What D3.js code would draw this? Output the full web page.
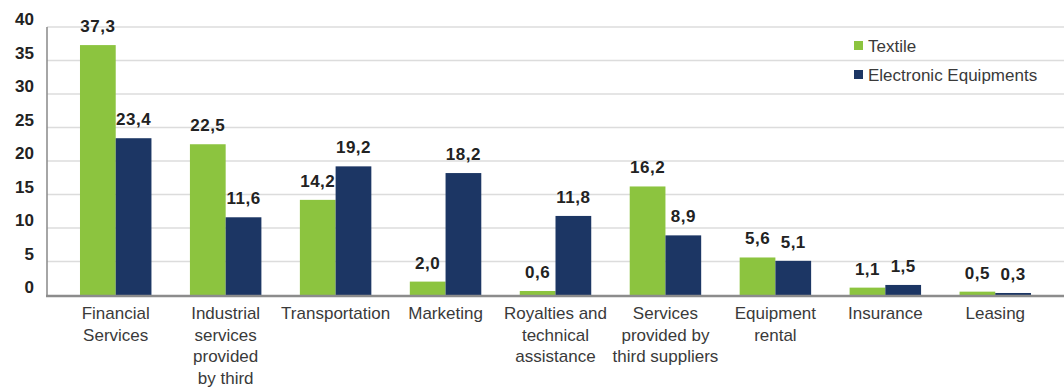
<!DOCTYPE html>
<html>
<head>
<meta charset="utf-8">
<script src="https://cdn.jsdelivr.net/npm/d3@7"></script>
<style>
  body { margin: 0; background: #fff; }
  svg { display: block; font-family: "Liberation Sans", Arial, sans-serif; }
</style>
</head>
<body>
<svg id="chart" width="1064" height="390"></svg>
<script>
// categories (line breaks kept as in the picture)
var categories = [
  ["Financial", "Services"],
  ["Industrial", "services", "provided", "by third"],
  ["Transportation"],
  ["Marketing"],
  ["Royalties and", "technical", "assistance"],
  ["Services", "provided by", "third suppliers"],
  ["Equipment", "rental"],
  ["Insurance"],
  ["Leasing"]
];
var seriesNames = ["Textile", "Electronic Equipments"];
var textile    = [37.3, 22.5, 14.2, 2.0, 0.6, 16.2, 5.6, 1.1, 0.5];
var electronic = [23.4, 11.6, 19.2, 18.2, 11.8, 8.9, 5.1, 1.5, 0.3];
var yTicks = [0, 5, 10, 15, 20, 25, 30, 35, 40];
var colors = ["#8cc43f", "#1c3664"];

// note: "top" is window.top, so use other names
var plotLeft = 47, plotRight = 1064, plotTop = 27, plotBottom = 295;

var svg = d3.select("#chart");

var x = d3.scaleBand()
  .domain(d3.range(categories.length))
  .range([plotLeft, plotRight])
  .paddingInner(0.35)
  .paddingOuter(0.3);

var x1 = d3.scaleBand()
  .domain([0, 1])
  .range([0, x.bandwidth()]);

var y = d3.scaleLinear().domain([0, 40]).range([plotBottom, plotTop]);

// gridlines
svg.append("g").selectAll("line")
  .data(yTicks.filter(function(d){ return d > 0; }))
  .enter().append("line")
  .attr("x1", plotLeft).attr("x2", plotRight)
  .attr("y1", function(d){ return y(d); })
  .attr("y2", function(d){ return y(d); })
  .style("stroke", "#dcdcdc")
  .style("stroke-width", 1.5);

// y tick labels
svg.append("g").selectAll("text")
  .data(yTicks)
  .enter().append("text")
  .attr("x", 34)
  .attr("y", function(d){ return y(d) - 2; })
  .attr("text-anchor", "end")
  .style("font-size", "17px")
  .style("font-weight", "bold")
  .style("fill", "#222")
  .text(function(d){ return d; });

// y axis line
svg.append("line")
  .attr("x1", plotLeft).attr("x2", plotLeft)
  .attr("y1", plotTop).attr("y2", plotBottom)
  .style("stroke", "#888").style("stroke-width", 1.5);

var series = [textile, electronic];

series.forEach(function(vals, s){
  var g = svg.append("g");
  g.selectAll("rect")
    .data(vals)
    .enter().append("rect")
    .attr("x", function(d, i){ return x(i) + x1(s); })
    .attr("width", x1.bandwidth())
    .attr("y", function(d){ return y(d); })
    .attr("height", function(d){ return plotBottom - y(d); })
    .style("fill", colors[s]);

  g.selectAll("text")
    .data(vals)
    .enter().append("text")
    .attr("x", function(d, i){ return x(i) + x1(s) + x1.bandwidth() / 2; })
    .attr("y", function(d){ return y(d) - 13; })
    .attr("text-anchor", "middle")
    .style("font-size", "17px")
    .style("font-weight", "bold")
    .style("letter-spacing", "0.5px")
    .style("fill", "#222")
    .text(function(d){ return d3.format(".1f")(d).replace(".", ","); });
});

// x axis line
svg.append("line")
  .attr("x1", plotLeft - 1).attr("x2", plotRight)
  .attr("y1", plotBottom + 1).attr("y2", plotBottom + 1)
  .style("stroke", "#8c8c8c").style("stroke-width", 2.5);

// category labels
var cat = svg.append("g").selectAll("text")
  .data(categories)
  .enter().append("text")
  .attr("text-anchor", "middle")
  .style("font-size", "17px")
  .style("fill", "#3a3a3a");

cat.selectAll("tspan")
  .data(function(d, i){ return d.map(function(t){ return { t: t, i: i }; }); })
  .enter().append("tspan")
  .attr("x", function(d){ return x(d.i) + x.bandwidth() / 2; })
  .attr("y", function(d, j){ return 319 + j * 21.5; })
  .text(function(d){ return d.t; });

// legend
var legend = svg.append("g").selectAll("g")
  .data(seriesNames)
  .enter().append("g")
  .attr("transform", function(d, i){ return "translate(854," + (41 + i * 29) + ")"; });

legend.append("rect")
  .attr("width", 9).attr("height", 9)
  .style("fill", function(d, i){ return colors[i]; });

legend.append("text")
  .attr("x", 14).attr("y", 11)
  .style("font-size", "17px")
  .style("fill", "#3a3a3a")
  .text(function(d){ return d; });
</script>
</body>
</html>
